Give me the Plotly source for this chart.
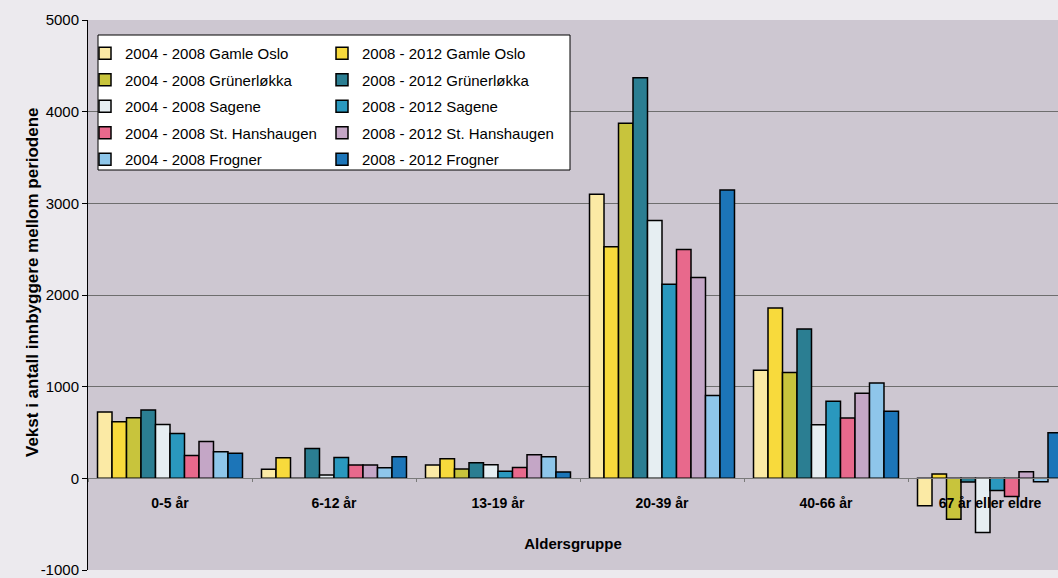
import plotly.graph_objects as go

categories = ["0-5 år", "6-12 år", "13-19 år", "20-39 år", "40-66 år", "67 år eller eldre"]

series_names = [
    "2004 - 2008 Gamle Oslo", "2008 - 2012 Gamle Oslo",
    "2004 - 2008 Grünerløkka", "2008 - 2012 Grünerløkka",
    "2004 - 2008 Sagene", "2008 - 2012 Sagene",
    "2004 - 2008 St. Hanshaugen", "2008 - 2012 St. Hanshaugen",
    "2004 - 2008 Frogner", "2008 - 2012 Frogner",
]

gamle_oslo_0408 = [724, 98, 145, 3100, 1180, -300]
gamle_oslo_0812 = [616, 225, 214, 2527, 1858, 48]
grunerlokka_0408 = [662, 0, 102, 3873, 1155, -445]
grunerlokka_0812 = [746, 326, 170, 4369, 1628, -40]
sagene_0408 = [586, 37, 149, 2812, 584, -590]
sagene_0812 = [489, 228, 76, 2117, 841, -134]
st_hanshaugen_0408 = [250, 145, 119, 2497, 657, -199]
st_hanshaugen_0812 = [402, 145, 257, 2190, 928, 73]
frogner_0408 = [290, 116, 236, 905, 1039, -36]
frogner_0812 = [275, 236, 69, 3145, 733, 496]

series_values = [
    gamle_oslo_0408, gamle_oslo_0812,
    grunerlokka_0408, grunerlokka_0812,
    sagene_0408, sagene_0812,
    st_hanshaugen_0408, st_hanshaugen_0812,
    frogner_0408, frogner_0812,
]

colors = ["#FBEAA5", "#F8DA3C", "#C8C43C", "#2B7E92", "#E6EEF2",
          "#2A98BE", "#E8698C", "#C4A6C6", "#8EC6EA", "#1C75B8"]

y_ticks = [-1000, 0, 1000, 2000, 3000, 4000, 5000]

FONT = "Liberation Sans, Arial, sans-serif"

W, H = 1058, 578
ML, MR, MT, MB = 88, 0, 20, 8
PW = W - ML - MR
PH = H - MT - MB


def px_x(px):
    return (px - ML) / PW


def px_y(py):
    return (H - MB - py) / PH


fig = go.Figure()
for i, (name, vals, col) in enumerate(zip(series_names, series_values, colors)):
    fig.add_trace(go.Bar(
        x=categories, y=vals, name=name,
        marker=dict(color=col, line=dict(color="black", width=1.5)),
        legend="legend" if i % 2 == 0 else "legend2",
        legendgroup=f"g{i}",
    ))

legend_common = dict(
    xanchor="left", yanchor="top",
    bgcolor="rgba(0,0,0,0)", borderwidth=0,
    font=dict(family=FONT, size=15, color="black"),
    tracegroupgap=4, traceorder="grouped",
)

fig.update_layout(
    width=W, height=H,
    margin=dict(l=ML, r=MR, t=MT, b=MB, autoexpand=False),
    paper_bgcolor="#ECEAEE",
    plot_bgcolor="#CDC7D1",
    barmode="group",
    bargap=0.116,
    bargroupgap=0,
    showlegend=True,
    legend=dict(x=px_x(85), y=px_y(37), **legend_common),
    legend2=dict(x=px_x(322), y=px_y(37), **legend_common),
    xaxis=dict(
        type="category",
        range=[-0.5, -0.5 + PW / 164.0],
        anchor="free", position=1 / 6,
        showline=True, linecolor="#7A7A7A", linewidth=1,
        ticks="outside", tickson="boundaries", ticklen=3, tickcolor="#7A7A7A",
        ticklabelstandoff=12,
        showgrid=False,
        tickfont=dict(family=FONT, size=14, color="black", weight="bold"),
        title=dict(text="Aldersgruppe", standoff=28,
                   font=dict(family=FONT, size=15, color="black", weight="bold")),
    ),
    yaxis=dict(
        range=[-1000, 5000],
        tickvals=y_ticks,
        ticktext=[str(v) for v in y_ticks],
        showgrid=True, gridcolor="#6E6E6E", gridwidth=1,
        zeroline=False,
        showline=True, linecolor="black", linewidth=1,
        ticks="outside", ticklen=5, tickcolor="black",
        ticklabeloverflow="allow",
        tickfont=dict(family=FONT, size=15, color="black"),
    ),
    shapes=[dict(
        type="rect", xref="paper", yref="paper",
        x0=px_x(98), x1=px_x(570), y0=px_y(170), y1=px_y(35),
        fillcolor="white", line=dict(color="black", width=1), layer="above",
    )],
    annotations=[dict(
        text="Vekst i antall innbyggere mellom periodene",
        xref="paper", yref="paper", x=px_x(32), y=px_y(282),
        xanchor="center", yanchor="middle", textangle=-90, showarrow=False,
        font=dict(family=FONT, size=17, color="black", weight="bold"),
    )],
)

fig.write_html(
    "out.html",
    config={"displayModeBar": False},
    post_script="document.body.style.margin='0px';document.body.style.padding='0px';document.body.style.overflow='hidden';",
)
